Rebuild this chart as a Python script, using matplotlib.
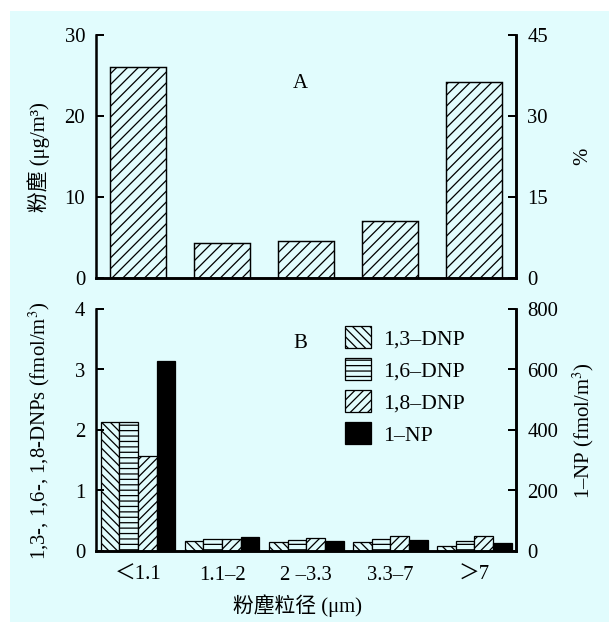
import numpy as np
import matplotlib
matplotlib.use('Agg')
import matplotlib.pyplot as plt
from matplotlib.patches import Rectangle

plt.rcParams['font.family'] = ['Liberation Serif', 'Noto Sans CJK SC', 'DejaVu Sans']
plt.rcParams['mathtext.fontset'] = 'stix'
plt.rcParams['hatch.linewidth'] = 0.7

# data
size_classes = ['＜1.1', '1.1–2', '2 –3.3', '3.3–7', '＞7']
dust_conc = [26.0, 4.35, 4.55, 7.0, 24.1]          # ug/m3

dnp13 = [2.13, 0.17, 0.14, 0.14, 0.09]            # fmol/m3
dnp16 = [2.13, 0.20, 0.18, 0.19, 0.16]
dnp18 = [1.57, 0.20, 0.21, 0.25, 0.25]
np1 = [628, 46, 34, 35, 25]                       # fmol/m3 (right axis)

dust_ticks = [0, 10, 20, 30]
pct_ticks = [0, 15, 30, 45]
dnp_ticks = [0, 1, 2, 3, 4]
np_ticks = [0, 200, 400, 600, 800]

BG = '#e1fcfd'
DPI = 130
FS = 11.5

fig = plt.figure(figsize=(609.4 / DPI, 625.4 / DPI), dpi=DPI)
fig.patch.set_facecolor('white')
fig.patches.append(Rectangle((10 / 609, 0.004), 1.0, 1 - 11 / 625 - 0.004,
                             transform=fig.transFigure, facecolor=BG,
                             edgecolor='none', zorder=-10))

L, R = 96 / 609, 516 / 609
axA = fig.add_axes([L, 1 - 278 / 625, R - L, (278 - 35) / 625])
axB = fig.add_axes([L, 1 - 551 / 625, R - L, (551 - 309) / 625])


def style(ax, twin):
    for a in (ax, twin):
        a.set_facecolor('none')
        a.spines['top'].set_visible(False)
        for s in ('left', 'right', 'bottom'):
            a.spines[s].set_linewidth(1.4)
        a.tick_params(axis='y', direction='in', length=4.5, width=1.1,
                      labelsize=FS, pad=6)
        a.tick_params(axis='x', length=0, labelsize=FS, pad=8)
    twin.spines['left'].set_visible(False)
    ax.set_xlim(-0.5, 4.5)


x = np.arange(len(size_classes))

# panel A
axA2 = axA.twinx()
style(axA, axA2)
axA.bar(x, dust_conc, width=0.67, facecolor=BG, edgecolor='black',
        linewidth=0.8, hatch='////')
axA.set_ylim(0, 30)
axA.set_yticks(dust_ticks)
axA2.set_ylim(0, 45)
axA2.set_yticks(pct_ticks)
axA.set_xticks(x)
axA.set_xticklabels([])
axA.text(0.486, 0.80, 'A', transform=axA.transAxes, fontsize=FS,
         ha='center', va='center')
axA.text(-0.136, 0.5, '粉塵 (μg/m³)', transform=axA.transAxes,
         rotation=90, ha='center', va='center', fontsize=FS)
axA.text(1.157, 0.5, '%', transform=axA.transAxes,
         rotation=90, ha='center', va='center', fontsize=FS)

# panel B
axB2 = axB.twinx()
style(axB, axB2)
w = 0.222
b1 = axB.bar(x - 1.5 * w, dnp13, width=w, facecolor=BG, edgecolor='black',
             linewidth=0.7, hatch='\\' * 5, label='1,3–DNP')
b2 = axB.bar(x - 0.5 * w, dnp16, width=w, facecolor=BG, edgecolor='black',
             linewidth=0.7, hatch='----', label='1,6–DNP')
b3 = axB.bar(x + 0.5 * w, dnp18, width=w, facecolor=BG, edgecolor='black',
             linewidth=0.7, hatch='/' * 5, label='1,8–DNP')
b4 = axB2.bar(x + 1.5 * w, np1, width=w, facecolor='black', edgecolor='black',
              linewidth=0.7, label='1–NP')
axB.set_ylim(0, 4)
axB.set_yticks(dnp_ticks)
axB2.set_ylim(0, 800)
axB2.set_yticks(np_ticks)
axB.set_xticks(x)
axB.set_xticklabels(size_classes)
axB2.set_xlim(-0.5, 4.5)
axB.text(0.486, 0.86, 'B', transform=axB.transAxes, fontsize=FS,
         ha='center', va='center')
axB.text(-0.136, 0.5, '1,3-, 1,6-, 1,8-DNPs (fmol/m$^3$)',
         transform=axB.transAxes, rotation=90, ha='center', va='center',
         fontsize=FS)
axB.text(1.159, 0.5, '1–NP (fmol/m$^3$)', transform=axB.transAxes,
         rotation=90, ha='center', va='center', fontsize=FS)
axB.text(0.48, -0.225, '粉塵粒径 (μm)', transform=axB.transAxes,
         ha='center', va='center', fontsize=FS)

axB2.legend([b1, b2, b3, b4], ['1,3–DNP', '1,6–DNP', '1,8–DNP', '1–NP'],
            loc='upper left', bbox_to_anchor=(0.593, 0.93), frameon=False,
            fontsize=FS + 0.5, handlelength=1.2, handleheight=1.2,
            handletextpad=0.55, labelspacing=0.4, borderpad=0,
            borderaxespad=0)

fig.savefig('out.png', dpi=DPI, facecolor=fig.get_facecolor())
